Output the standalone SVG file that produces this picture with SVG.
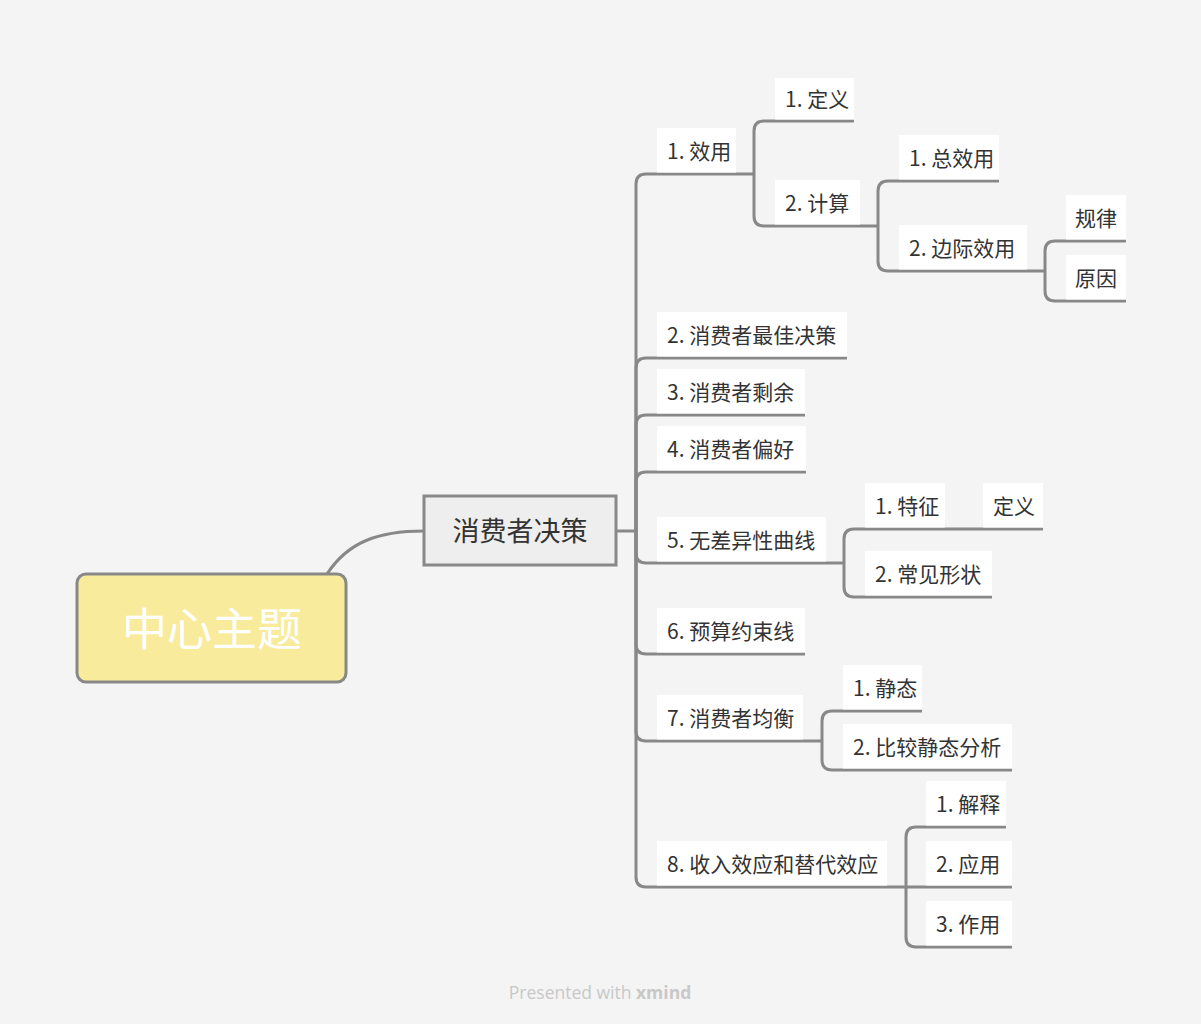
<svg xmlns="http://www.w3.org/2000/svg" width="1201" height="1024" viewBox="0 0 1201 1024">
<style>
.ln{fill:none;stroke:#888;stroke-width:3;stroke-linecap:butt}
.bg{fill:#fff}
.t{font-family:"Noto Sans CJK SC","Noto Sans",sans-serif;font-size:21px;fill:#333}
.foot{font-family:"Open Sans","Noto Sans",sans-serif;font-size:17.5px;fill:#c8c8c8}
</style>
<rect x="0" y="0" width="1201" height="1024" fill="#f4f4f4"/>
<g id="connectors">
<path class="ln" d="M327,574 C348,542 378,531 424,531"/>
<path class="ln" d="M616,531 H636"/>
<path class="ln" d="M636,531 V184 Q636,174 646,174 H754"/>
<path class="ln" d="M636,531 V368 Q636,358 646,358 H847"/>
<path class="ln" d="M636,531 V425 Q636,415 646,415 H805"/>
<path class="ln" d="M636,531 V482 Q636,472 646,472 H806"/>
<path class="ln" d="M636,531 V553 Q636,563 646,563 H844"/>
<path class="ln" d="M636,531 V644 Q636,654 646,654 H805"/>
<path class="ln" d="M636,531 V731 Q636,741 646,741 H822"/>
<path class="ln" d="M636,531 V877 Q636,887 646,887 H906"/>
<path class="ln" d="M754,174 V131 Q754,121 764,121 H854"/>
<path class="ln" d="M754,174 V216 Q754,226 764,226 H878"/>
<path class="ln" d="M878,226 V191 Q878,181 888,181 H999"/>
<path class="ln" d="M878,226 V261 Q878,271 888,271 H1045"/>
<path class="ln" d="M1045,271 V251 Q1045,241 1055,241 H1126"/>
<path class="ln" d="M1045,271 V291 Q1045,301 1055,301 H1126"/>
<path class="ln" d="M844,563 V539 Q844,529 854,529 H1043"/>
<path class="ln" d="M844,563 V587 Q844,597 854,597 H992"/>
<path class="ln" d="M822,741 V721 Q822,711 832,711 H922"/>
<path class="ln" d="M822,741 V760 Q822,770 832,770 H1012"/>
<path class="ln" d="M906,887 V837 Q906,827 916,827 H1006"/>
<path class="ln" d="M906,887 H1012"/>
<path class="ln" d="M906,887 V937 Q906,947 916,947 H1012"/>
</g>
<g id="central">
<rect x="77" y="574" width="269" height="108" rx="9" fill="#f8eb9c" stroke="#888" stroke-width="3"/>
<text x="212" y="646" text-anchor="middle" font-family="'Noto Sans CJK SC','Noto Sans',sans-serif" font-size="45" fill="#fff">中心主题</text>
</g>
<g id="main">
<rect x="424" y="496" width="192" height="69" fill="#eeeeee" stroke="#888" stroke-width="3"/>
<text x="520" y="541" text-anchor="middle" font-family="'Noto Sans CJK SC','Noto Sans',sans-serif" font-size="27" fill="#333">消费者决策</text>
</g>
<g id="n1"><rect class="bg" x="657" y="128" width="79" height="44.5"/><text class="t" x="667" y="159">1. 效用</text></g>
<g id="n1-1"><rect class="bg" x="775" y="78" width="79" height="41.5"/><text class="t" x="785" y="107">1. 定义</text></g>
<g id="n1-2"><rect class="bg" x="775" y="180" width="85" height="44.5"/><text class="t" x="785" y="211">2. 计算</text></g>
<g id="n1-2-1"><rect class="bg" x="899" y="135" width="100" height="44.5"/><text class="t" x="909" y="166">1. 总效用</text></g>
<g id="n1-2-2"><rect class="bg" x="899" y="225" width="128" height="44.5"/><text class="t" x="909" y="256">2. 边际效用</text></g>
<g id="n1-2-2-1"><rect class="bg" x="1066" y="195" width="60" height="44.5"/><text class="t" x="1075" y="226">规律</text></g>
<g id="n1-2-2-2"><rect class="bg" x="1066" y="255" width="60" height="44.5"/><text class="t" x="1075" y="286">原因</text></g>
<g id="n2"><rect class="bg" x="657" y="312" width="190" height="44.5"/><text class="t" x="667" y="343">2. 消费者最佳决策</text></g>
<g id="n3"><rect class="bg" x="657" y="369" width="148" height="44.5"/><text class="t" x="667" y="400">3. 消费者剩余</text></g>
<g id="n4"><rect class="bg" x="657" y="426" width="149" height="44.5"/><text class="t" x="667" y="457">4. 消费者偏好</text></g>
<g id="n5"><rect class="bg" x="657" y="517" width="169" height="44.5"/><text class="t" x="667" y="548">5. 无差异性曲线</text></g>
<g id="n5-1"><rect class="bg" x="865" y="483" width="80" height="44.5"/><text class="t" x="875" y="514">1. 特征</text></g>
<g id="n5-1-1"><rect class="bg" x="983" y="483" width="60" height="44.5"/><text class="t" x="993" y="514">定义</text></g>
<g id="n5-2"><rect class="bg" x="865" y="551" width="127" height="44.5"/><text class="t" x="875" y="582">2. 常见形状</text></g>
<g id="n6"><rect class="bg" x="657" y="608" width="148" height="44.5"/><text class="t" x="667" y="639">6. 预算约束线</text></g>
<g id="n7"><rect class="bg" x="657" y="695" width="146" height="44.5"/><text class="t" x="667" y="726">7. 消费者均衡</text></g>
<g id="n7-1"><rect class="bg" x="843" y="665" width="79" height="44.5"/><text class="t" x="853" y="696">1. 静态</text></g>
<g id="n7-2"><rect class="bg" x="843" y="724" width="169" height="44.5"/><text class="t" x="853" y="755">2. 比较静态分析</text></g>
<g id="n8"><rect class="bg" x="657" y="841" width="230" height="44.5"/><text class="t" x="667" y="872">8. 收入效应和替代效应</text></g>
<g id="n8-1"><rect class="bg" x="926" y="781" width="80" height="44.5"/><text class="t" x="936" y="812">1. 解释</text></g>
<g id="n8-2"><rect class="bg" x="926" y="841" width="86" height="44.5"/><text class="t" x="936" y="872">2. 应用</text></g>
<g id="n8-3"><rect class="bg" x="926" y="901" width="86" height="44.5"/><text class="t" x="936" y="932">3. 作用</text></g>
<g id="footer"><text class="foot" x="600" y="999" text-anchor="middle">Presented with <tspan font-weight="bold">xmind</tspan></text></g>
</svg>
